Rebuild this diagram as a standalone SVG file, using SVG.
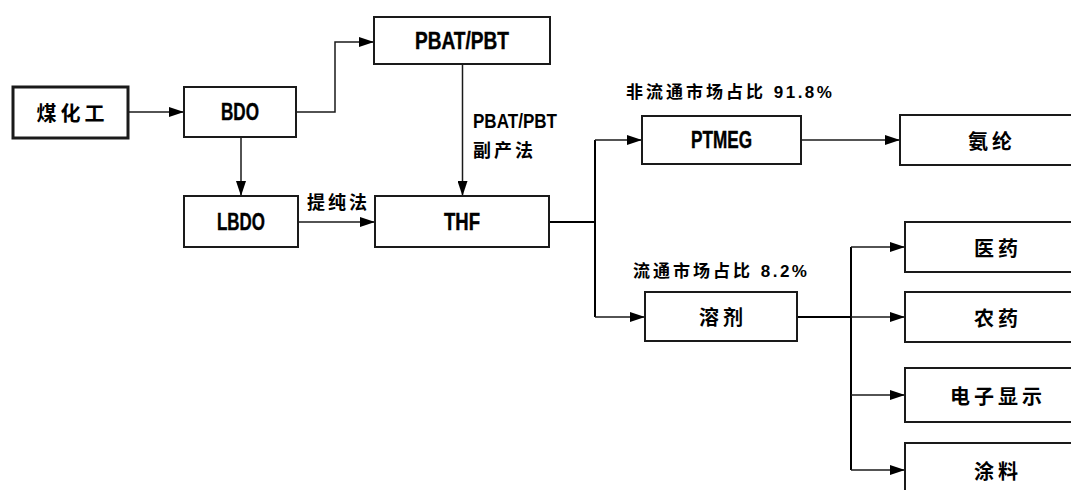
<svg xmlns="http://www.w3.org/2000/svg" width="1071" height="490" viewBox="0 0 1071 490">
<style>
  .box { fill: #fff; stroke: #1a1a1a; stroke-width: 2; }
  .thick { stroke-width: 3; }
  .lat { font-family: "Liberation Sans", "Noto Sans CJK SC", sans-serif; font-weight: bold; font-size: 23px; fill: #000; stroke: #000; stroke-width: 0.4; text-anchor: middle; dominant-baseline: central; }
  .cjk { font-family: "Noto Sans CJK SC", sans-serif; font-weight: bold; font-size: 20px; fill: #000; text-anchor: middle; dominant-baseline: central; letter-spacing: 4px; }
  .lbl { font-family: "Liberation Sans", "Noto Sans CJK SC", sans-serif; font-weight: bold; fill: #000; dominant-baseline: central; }
  .conn { fill: none; stroke: #1a1a1a; stroke-width: 1.5; }
  .conn2 { fill: none; stroke: #000; stroke-width: 2; }
</style>
<defs>
  <marker id="arr" markerUnits="userSpaceOnUse" markerWidth="16" markerHeight="10" refX="15" refY="5" orient="auto">
    <path d="M0,0 L15,5 L0,10 z" fill="#000"/>
  </marker>
</defs>
<rect width="1071" height="490" fill="#fff"/>

<g id="connectors">
  <path class="conn" d="M128,112 H184" marker-end="url(#arr)"/>
  <path class="conn" d="M296,112 H335 V42 H374" marker-end="url(#arr)"/>
  <path class="conn" d="M241,137 V196" marker-end="url(#arr)"/>
  <path class="conn" d="M462.5,64 V196" marker-end="url(#arr)"/>
  <path class="conn" d="M298,222 H375" marker-end="url(#arr)"/>
  <path class="conn2" d="M549,222 H595"/>
  <path class="conn2" d="M595,140 V317"/>
  <path class="conn" d="M595,140 H642" marker-end="url(#arr)"/>
  <path class="conn" d="M595,317 H645" marker-end="url(#arr)"/>
  <path class="conn" d="M801,140 H900" marker-end="url(#arr)"/>
  <path class="conn2" d="M797,317 H851"/>
  <path class="conn2" d="M851,247 V470"/>
  <path class="conn" d="M851,247 H905" marker-end="url(#arr)"/>
  <path class="conn" d="M851,317 H905" marker-end="url(#arr)"/>
  <path class="conn" d="M851,395 H905" marker-end="url(#arr)"/>
  <path class="conn" d="M851,470 H905" marker-end="url(#arr)"/>
</g>

<g id="labels">
  <text class="lbl" x="473" y="120" font-size="21" textLength="84" lengthAdjust="spacingAndGlyphs">PBAT/PBT</text>
  <text class="lbl" x="473" y="151" font-size="18" letter-spacing="3">副产法</text>
  <text class="lbl" x="307" y="203" font-size="18" letter-spacing="3">提纯法</text>
  <text class="lbl" x="626" y="92" font-size="17" letter-spacing="3">非流通市场占比 <tspan letter-spacing="2.5">91.8%</tspan></text>
  <text class="lbl" x="633" y="271" font-size="17" letter-spacing="3">流通市场占比 <tspan letter-spacing="2.5">8.2%</tspan></text>
</g>

<g id="node-meihuagong">
  <rect class="box thick" x="13" y="87" width="115" height="51"/>
  <text class="cjk" x="72.5" y="112.5">煤化工</text>
</g>
<g id="node-bdo">
  <rect class="box" x="184" y="87" width="112" height="50"/>
  <text class="lat" x="240" y="112" textLength="38" lengthAdjust="spacingAndGlyphs">BDO</text>
</g>
<g id="node-pbat">
  <rect class="box" x="374" y="17" width="176" height="47"/>
  <text class="lat" x="462" y="40.5" textLength="94" lengthAdjust="spacingAndGlyphs">PBAT/PBT</text>
</g>
<g id="node-lbdo">
  <rect class="box" x="184" y="196" width="114" height="51"/>
  <text class="lat" x="241" y="221.5" textLength="48" lengthAdjust="spacingAndGlyphs">LBDO</text>
</g>
<g id="node-thf">
  <rect class="box" x="375" y="196" width="174" height="51"/>
  <text class="lat" x="462" y="221.5" textLength="36" lengthAdjust="spacingAndGlyphs">THF</text>
</g>
<g id="node-ptmeg">
  <rect class="box" x="642" y="116" width="159" height="48"/>
  <text class="lat" x="721.5" y="140" textLength="61" lengthAdjust="spacingAndGlyphs">PTMEG</text>
</g>
<g id="node-anlun">
  <rect class="box" x="900" y="115" width="185" height="50"/>
  <text class="cjk" x="992" y="140">氨纶</text>
</g>
<g id="node-rongji">
  <rect class="box" x="645" y="292" width="152" height="49"/>
  <text class="cjk" x="723" y="316.5">溶剂</text>
</g>
<g id="node-yiyao">
  <rect class="box" x="905" y="222" width="180" height="50"/>
  <text class="cjk" x="998" y="247">医药</text>
</g>
<g id="node-nongyao">
  <rect class="box" x="905" y="292" width="180" height="50"/>
  <text class="cjk" x="998" y="317">农药</text>
</g>
<g id="node-dianzi">
  <rect class="box" x="905" y="368" width="180" height="54"/>
  <text class="cjk" x="998" y="395">电子显示</text>
</g>
<g id="node-tuliao">
  <rect class="box" x="905" y="443" width="180" height="60"/>
  <text class="cjk" x="998" y="470">涂料</text>
</g>
</svg>
